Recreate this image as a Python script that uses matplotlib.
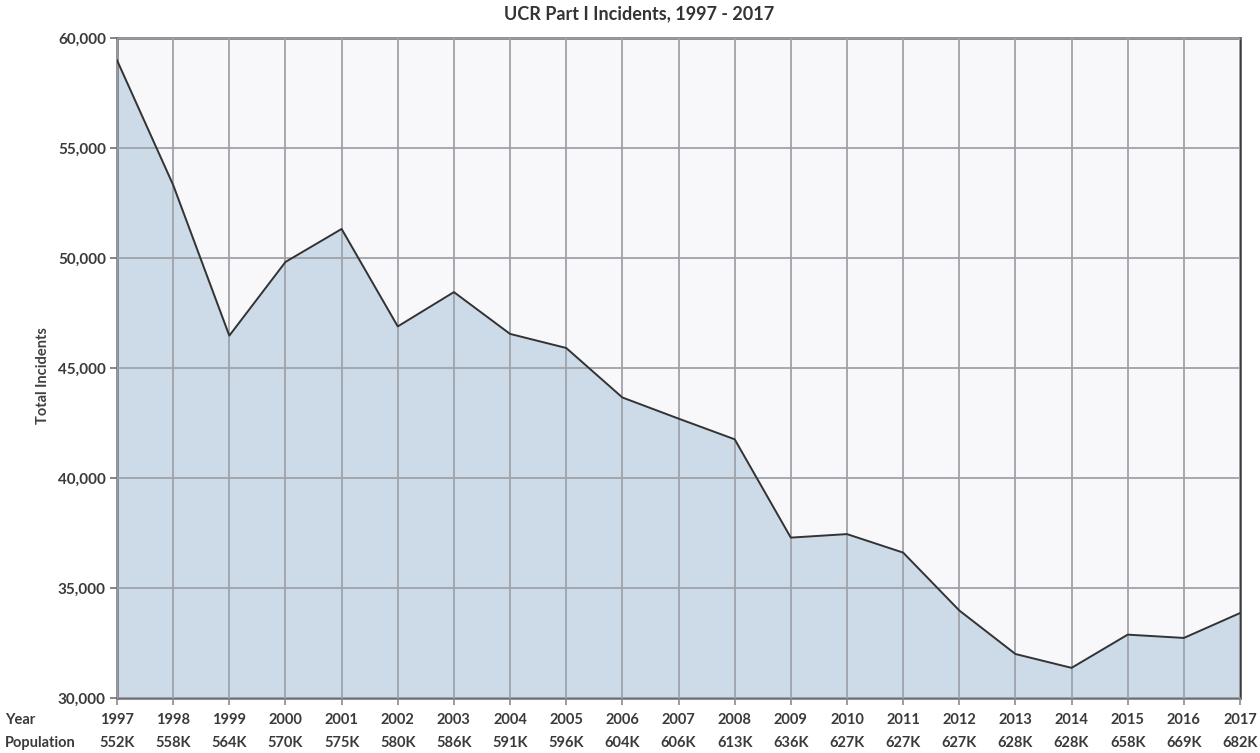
import matplotlib.pyplot as plt
import matplotlib.transforms as mtransforms
from matplotlib.ticker import FuncFormatter

# valores
years = list(range(1997, 2018))
incidents = [58990, 53320, 46470, 49820, 51320, 46890, 48450, 46550, 45910, 43660,
             42700, 41760, 37290, 37450, 36610, 33980, 32000, 31370, 32880, 32730, 33860]
population = ['552K', '558K', '564K', '570K', '575K', '580K', '586K', '591K', '596K', '604K',
              '606K', '613K', '636K', '627K', '627K', '627K', '628K', '628K', '658K', '669K', '682K']

plt.rcParams['font.family'] = ['Lato', 'DejaVu Sans']

fig = plt.figure(figsize=(12.6, 7.53), dpi=100)
ax = fig.add_axes([117 / 1260, 1 - 698 / 753, (1240 - 117) / 1260, (698 - 38) / 753])

ax.set_facecolor('#f8f8fb')
ax.fill_between(years, incidents, 30000, color='#cddbe9', zorder=1)
ax.plot(years, incidents, color='#333333', lw=1.4, zorder=3)

ax.set_xlim(years[0], years[-1])
ax.set_ylim(30000, 60000)
ax.set_xticks(years)
ax.set_yticks(range(30000, 60001, 5000))
ax.yaxis.set_major_formatter(FuncFormatter(lambda v, p: f'{int(v):,}'))
ax.set_xticklabels([])
ax.grid(True, color='#9fa2aa', lw=1.3, zorder=2)
ax.set_axisbelow(False)

for s in ['left', 'top', 'bottom']:
    ax.spines[s].set_color('#6e6e72')
    ax.spines[s].set_linewidth(1.8)
ax.spines['right'].set_color('#3c3c3c')
ax.spines['right'].set_linewidth(1.8)

ax.tick_params(axis='y', length=5, color='#6e6e72', width=1.2, labelsize=11,
               labelcolor='#3a3a3a', pad=3)
ax.tick_params(axis='x', length=5, color='#8a8a90', width=1.2)
for lbl in ax.get_yticklabels():
    lbl.set_fontweight('bold')

# filas inferiores: Year / Population
trans = mtransforms.blended_transform_factory(ax.transData, fig.transFigure)
for yr, pop in zip(years, population):
    ax.text(yr, 1 - 720 / 753, str(yr), transform=trans, ha='center', va='center',
            fontsize=10.5, fontweight='bold', color='#3a3a3a')
    ax.text(yr, 1 - 743 / 753, pop, transform=trans, ha='center', va='center',
            fontsize=10.5, fontweight='bold', color='#3a3a3a')
fig.text(5 / 1260, 1 - 720 / 753, 'Year', ha='left', va='center', fontsize=10.5,
         fontweight='bold', color='#3a3a3a')
fig.text(5 / 1260, 1 - 743 / 753, 'Population', ha='left', va='center', fontsize=10.5,
         fontweight='bold', color='#3a3a3a')

fig.text(43 / 1260, 1 - 376 / 753, 'Total Incidents', rotation=90, ha='center', va='center',
         fontsize=10.5, fontweight='bold', color='#404040')
fig.text(639 / 1260, 1 - 14 / 753, 'UCR Part I Incidents, 1997 - 2017', ha='center',
         va='center', fontsize=13, fontweight='bold', color='#333333')

fig.savefig('out.png', dpi=100)
